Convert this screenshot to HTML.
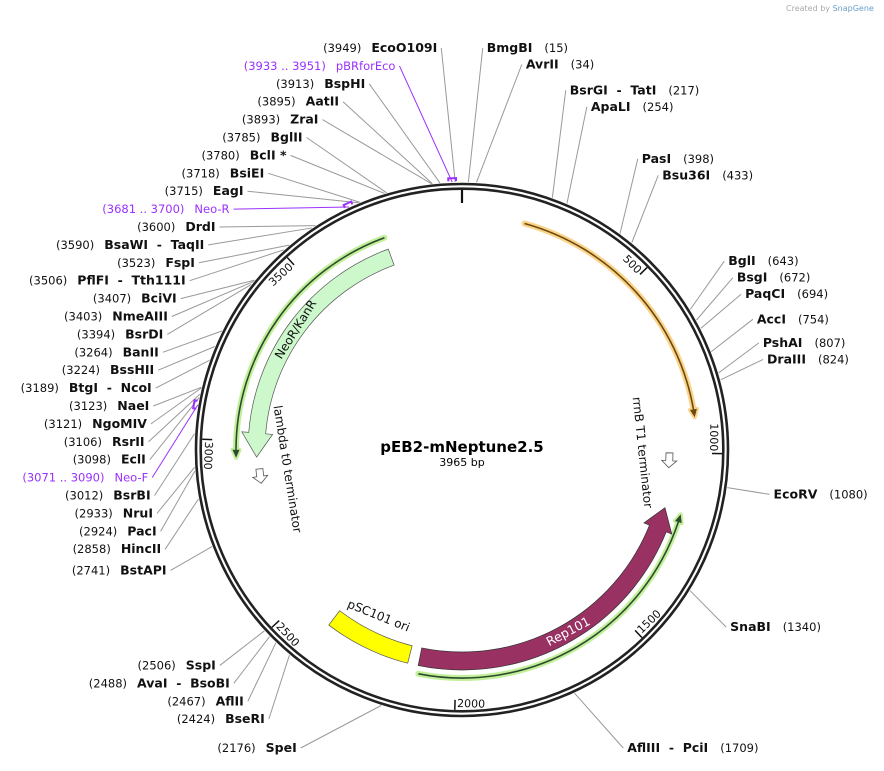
<!DOCTYPE html>
<html><head><meta charset="utf-8">
<style>
html,body{margin:0;padding:0;background:#fff;}
svg{display:block;font-family:"DejaVu Sans","Liberation Sans",sans-serif;}
</style></head>
<body>
<svg id="map" width="884" height="771" viewBox="0 0 884 771" xmlns="http://www.w3.org/2000/svg">
<text x="786" y="11" font-size="8" fill="#aaa">Created by <tspan fill="#6a9ec9">SnapGene</tspan></text>
<g id="leaders"></g>
<g id="ring"></g>
<g id="features"></g>
<g id="labels"></g>
<text x="462" y="452" text-anchor="middle" font-size="15" font-weight="bold" fill="#000">pEB2-mNeptune2.5</text>
<text x="462" y="466" text-anchor="middle" font-size="11" fill="#000">3965 bp</text>
</svg>
<script>
const N = 3965;
const siteNames = ["BmgBI","AvrII","BsrGI  -  TatI","ApaLI","PasI","Bsu36I","BglI","BsgI","PaqCI","AccI","PshAI","DraIII","EcoRV","SnaBI","AflIII  -  PciI",
 "SpeI","BseRI","AflII","AvaI  -  BsoBI","SspI","BstAPI","HincII","PacI","NruI","BsrBI","EclI","RsrII","NgoMIV","NaeI","BtgI  -  NcoI","BssHII","BanII","BsrDI","NmeAIII","BciVI","PflFI  -  Tth111I","FspI","BsaWI  -  TaqII","DrdI","EagI","BsiEI","BclI *","BglII","ZraI","AatII","BspHI","EcoO109I"];
const sitePositions = [15,34,217,254,398,433,643,672,694,754,807,824,1080,1340,1709,
 2176,2424,2467,2488,2506,2741,2858,2924,2933,3012,3098,3106,3121,3123,3189,3224,3264,3394,3403,3407,3506,3523,3590,3600,3715,3718,3780,3785,3893,3895,3913,3949];
const primerNames = ["pBRforEco","Neo-R","Neo-F"];
const primerStarts = [3933,3681,3071];
const primerEnds = [3951,3700,3090];
const tickValues = [500,1000,1500,2000,2500,3000,3500];
const featureNames = ["orange-feature","NeoR/KanR","neo-highlight","Rep101","rep-highlight","pSC101 ori","lambda t0 terminator","rrnB T1 terminator"];
const featureStarts = [170,2952,2952,1166,1172,2140,2870,1000];
const featureEnds = [903,3743,3744,2109,2104,2393,2915,1045];
const featureDirs = [1,-1,-1,-1,-1,0,-1,1];

const cx = 462, cy = 450;
const NS = "http://www.w3.org/2000/svg";
function ang(p){ return p / N * 2 * Math.PI; }
function pt(r, p){ const a = ang(p); return [cx + r * Math.sin(a), cy - r * Math.cos(a)]; }
function f(v){ return v.toFixed(2); }
function mk(tag, attrs, parent){ const e = document.createElementNS(NS, tag); for (const k in attrs) e.setAttribute(k, attrs[k]); parent.appendChild(e); return e; }
function arcTo(r, p1, p2, sweep){ const [x, y] = pt(r, p2); const large = Math.abs(p2 - p1) / N > 0.5 ? 1 : 0; return `A${r},${r} 0 ${large} ${sweep} ${f(x)},${f(y)}`; }
function M(r, p){ const [x, y] = pt(r, p); return `M${f(x)},${f(y)}`; }
function L(r, p){ const [x, y] = pt(r, p); return `L${f(x)},${f(y)}`; }

const ring = document.getElementById('ring');
const feats = document.getElementById('features');
const labs = document.getElementById('labels');
const leaders = document.getElementById('leaders');

let c1 = mk('circle', {cx: cx, cy: cy, r: 266, fill: 'none', stroke: '#222', 'stroke-width': 2.6}, ring);


let c2 = mk('circle', {cx: cx, cy: cy, r: 261.3, fill: 'none', stroke: '#222', 'stroke-width': 2.6}, ring);


let zt = mk('path', {d: M(260, 0) + L(247, 0), stroke: '#111', 'stroke-width': 2.2}, ring);



tickValues.forEach(v => {
  const t = mk('path', {d: M(260, v) + L(250, v), stroke: '#111', 'stroke-width': 1.5}, ring);
  
  
  let deg = v / N * 360;
  let rot, anchor, r;
  if (deg <= 100) { rot = deg; anchor = 'end'; r = 248; }
  else if (deg < 280) { rot = deg - 180; anchor = 'start'; r = 257; }
  else { rot = deg - 360; anchor = 'end'; r = 248; }
  const [x, y] = pt(r, v);
  const tx = mk('text', {x: f(x), y: f(y), 'font-size': 11, 'text-anchor': anchor, fill: '#111', transform: `rotate(${f(rot)} ${f(x)} ${f(y)})`}, ring);
  tx.textContent = anchor === 'end' ? v + '\u2009' : '\u2009' + v;
  
  
});

function bandArrow(rIn, rOut, p1, p2, dir, head, ext){
  const rm = (rIn + rOut) / 2;
  const dp = head / rm * N / (2 * Math.PI);
  if (dir > 0) {
    const ph = p2 - dp;
    return M(rOut, p1) + arcTo(rOut, p1, ph, 1) + L(rOut + ext, ph) + L(rm, p2) + L(rIn - ext, ph) + L(rIn, ph) + arcTo(rIn, ph, p1, 0) + 'Z';
  } else if (dir < 0) {
    const ph = p1 + dp;
    return M(rm, p1) + L(rOut + ext, ph) + L(rOut, ph) + arcTo(rOut, ph, p2, 1) + L(rIn, p2) + arcTo(rIn, p2, ph, 0) + L(rIn - ext, ph) + 'Z';
  }
  return M(rOut, p1) + arcTo(rOut, p1, p2, 1) + L(rIn, p2) + arcTo(rIn, p2, p1, 0) + 'Z';
}
function lineArrow(i, r, glow, core){
  const p1 = featureStarts[i], p2 = featureEnds[i], dir = featureDirs[i];
  const dp = 8 / r * N / (2 * Math.PI);
  let d, head;
  if (dir > 0) { const ph = p2 - dp; d = M(r, p1) + arcTo(r, p1, ph, 1); head = M(r + 3.5, ph) + L(r, p2) + L(r - 3.5, ph) + 'Z'; }
  else { const ph = p1 + dp; d = M(r, ph) + arcTo(r, ph, p2, 1); head = M(r + 3.5, ph) + L(r, p1) + L(r - 3.5, ph) + 'Z'; }
  const g = mk('g', {}, feats);
  
  
  mk('path', {d: d, fill: 'none', stroke: glow, 'stroke-width': 6, 'stroke-linecap': 'round'}, g);
  mk('path', {d: head, fill: glow, stroke: glow, 'stroke-width': 4, 'stroke-linejoin': 'round'}, g);
  mk('path', {d: d, fill: 'none', stroke: core, 'stroke-width': 1.6}, g);
  mk('path', {d: head, fill: core}, g);
}
lineArrow(0, 235, '#fbd48a', '#6b4a10');
lineArrow(2, 226, '#c2f09a', '#2d4a2d');
lineArrow(4, 228, '#c2f09a', '#2d4a2d');

let neo = mk('path', {d: bandArrow(197, 214, featureStarts[1], featureEnds[1], featureDirs[1], 24, 7), fill: '#ccf8cc', stroke: '#555', 'stroke-width': 0.7}, feats);


let rep = mk('path', {d: bandArrow(202, 220, featureStarts[3], featureEnds[3], featureDirs[3], 22, 6), fill: '#993162', stroke: '#333', 'stroke-width': 0.7}, feats);


let ori = mk('path', {d: bandArrow(202, 220, featureStarts[5], featureEnds[5], 0, 0, 0), fill: '#ffff00', stroke: '#555', 'stroke-width': 0.7}, feats);


let lam = mk('path', {d: bandArrow(200, 207, featureStarts[6], featureEnds[6], featureDirs[6], 7, 4), fill: '#fff', stroke: '#555', 'stroke-width': 0.8}, feats);


let rrn = mk('path', {d: bandArrow(204, 211, featureStarts[7], featureEnds[7], featureDirs[7], 7, 4), fill: '#fff', stroke: '#555', 'stroke-width': 0.8}, feats);



function featText(txt, r, p, rot, color, size, nm){
  const [x, y] = pt(r, p);
  const t = mk('text', {x: f(x), y: f(y), 'text-anchor': 'middle', 'dominant-baseline': 'middle', 'font-size': size, fill: color, transform: `rotate(${rot} ${f(x)} ${f(y)})`}, feats);
  t.textContent = txt;
  
  
}
featText('NeoR/KanR', 205, 3370, -58, '#111', 12, 'neor-kanr-label');
featText('lambda t0 terminator', 176, 2905, 81, '#111', 12, 'lambda-t0-label');
featText('rrnB T1 terminator', 180, 1000, 84, '#111', 12, 'rrnb-t1-label');
featText('Rep101', 211, (featureStarts[3] + featureEnds[3]) * 0.5 + 11, -28, '#fff', 12.5, 'rep101-label');
featText('pSC101 ori', 186, (featureStarts[5] + featureEnds[5]) * 0.5 + 10, 22, '#111', 12, 'psc101-ori-label');

primerNames.forEach((n, i) => {
  const r = 272;
  const d = M(r - 3, primerStarts[i]) + L(r, primerStarts[i]) + arcTo(r, primerStarts[i], primerEnds[i], 1) + L(r - 3, primerEnds[i]);
  const p = mk('path', {d: d, fill: 'none', stroke: '#9b30ff', 'stroke-width': 2}, feats);
  
  
});

const items = [];
siteNames.forEach((n, i) => items.push({name: n, pos: sitePositions[i], txt: '(' + sitePositions[i] + ')', primer: false}));
primerNames.forEach((n, i) => items.push({name: n, pos: (primerStarts[i] + primerEnds[i]) / 2, txt: '(' + primerStarts[i] + ' .. ' + primerEnds[i] + ')', primer: true}));
const dxTable = [[0,318],[75,308],[130,294],[170,274],[212,252],[258,216],[291,175],[327,143],[352,114],[381,65],[400,20]];
function dxFor(dy){
  const a = Math.abs(dy);
  for (let k = 1; k < dxTable.length; k++) {
    if (a <= dxTable[k][0]) { const [a0, b0] = dxTable[k-1], [a1, b1] = dxTable[k]; return b0 + (b1 - b0) * (a - a0) / (a1 - a0); }
  }
  return 20;
}
function layout(list, sp, minY, maxY){
  list.forEach(it => { const a = ang(it.pos); const c = Math.cos(a); const R = 345 + 50 * Math.pow(Math.max(0, c), 8); it.ideal = cy - R * c; });
  list.sort((a, b) => a.ideal - b.ideal);
  let groups = list.map(it => ({items: [it]}));
  function place(g){ const m = g.items.reduce((s, it) => s + it.ideal, 0) / g.items.length; let top = m - (g.items.length - 1) * sp / 2; top = Math.max(minY, Math.min(top, maxY - (g.items.length - 1) * sp)); g.top = top; }
  groups.forEach(place);
  let changed = true;
  while (changed) {
    changed = false;
    for (let k = 0; k < groups.length - 1; k++) {
      const g = groups[k], h = groups[k + 1];
      if (g.top + g.items.length * sp > h.top) { g.items = g.items.concat(h.items); groups.splice(k + 1, 1); place(g); changed = true; break; }
    }
  }
  groups.forEach(g => g.items.forEach((it, j) => { it.y = g.top + j * sp; }));
}
const right = items.filter(it => it.pos < N / 2);
const left = items.filter(it => it.pos >= N / 2);
layout(right, 16.5, 52, 752);
layout(left, 17.9, 52, 752);

function drawLabel(it, side){
  const dy = it.y - cy;
  const dx = dxFor(dy);
  const x = side > 0 ? cx + dx : cx - dx;
  const [sx, sy] = pt(268, it.pos);
  const ex = side > 0 ? x - 4 : x + 4;
  const ln = mk('line', {x1: f(sx), y1: f(sy), x2: f(ex), y2: f(it.y - 4), stroke: it.primer ? '#9b30ff' : '#999', 'stroke-width': 1}, leaders);
  
  
  const t = mk('text', {x: f(x), y: f(it.y), 'text-anchor': side > 0 ? 'start' : 'end', 'font-size': 11.5, fill: it.primer ? '#9b30ff' : '#111', style: 'white-space:pre'}, labs);
  
  
  const nameSpan = document.createElementNS(NS, 'tspan');
  nameSpan.textContent = it.name;
  if (!it.primer) { nameSpan.setAttribute('font-weight', 'bold'); nameSpan.setAttribute('font-size', '12.5'); }
  const numSpan = document.createElementNS(NS, 'tspan');
  numSpan.textContent = it.txt;
  if (side > 0) { numSpan.setAttribute('dx', '12'); t.appendChild(nameSpan); t.appendChild(numSpan); }
  else { nameSpan.setAttribute('dx', '10'); t.appendChild(numSpan); t.appendChild(nameSpan); }
}
right.forEach(it => drawLabel(it, 1));
left.forEach(it => drawLabel(it, -1));
</script>
</body></html>
